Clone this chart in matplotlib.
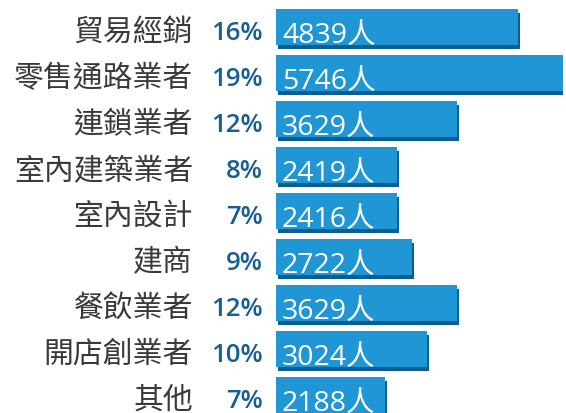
import matplotlib
matplotlib.use('Agg')
import matplotlib.pyplot as plt
import matplotlib.transforms as mtransforms
import numpy as np

# data
categories = ['貿易經銷', '零售通路業者', '連鎖業者', '室內建築業者', '室內設計',
              '建商', '餐飲業者', '開店創業者', '其他']
percents = [16, 19, 12, 8, 7, 9, 12, 10, 7]
counts = [4839, 5746, 3629, 2419, 2416, 2722, 3629, 3024, 2188]

bar_color = '#2196d5'
shadow_color = '#0b5d92'
pct_color = '#175f92'
label_color = '#3a3a3a'

fig = plt.figure(figsize=(5.66, 4.14), dpi=100)
fig.patch.set_facecolor('white')
# axes starts where the bars start, full height
ax = fig.add_axes([276 / 566, 0, 287 / 566, 1])
ax.set_axis_off()

y = np.arange(len(categories))
row_px = 46
ax.set_xlim(0, max(counts))
ax.set_ylim((414 - 28) / row_px, -28 / row_px)

# shadow bars, shifted a bit right and down
shadow = ax.barh(y, counts, height=36 / row_px, color=shadow_color, zorder=1)
shift = mtransforms.ScaledTranslation(0.02, -0.04, fig.dpi_scale_trans)
for p in shadow:
    p.set_transform(ax.transData + shift)

ax.barh(y, counts, height=36 / row_px, color=bar_color, zorder=2)

for i in range(len(categories)):
    ax.annotate(categories[i], xy=(0, i), xytext=(-83, -13), textcoords='offset pixels',
                ha='right', va='baseline', fontsize=21.5, fontweight='light', color=label_color,
                family=['Noto Sans CJK TC'], annotation_clip=False)
    ax.annotate(f'{percents[i]}%', xy=(0, i), xytext=(-13, -12), textcoords='offset pixels',
                ha='right', va='baseline', fontsize=18.5, fontweight='semibold', color=pct_color,
                family=['Open Sans', 'DejaVu Sans'], annotation_clip=False)
    ax.annotate(f'{counts[i]}人', xy=(0, i), xytext=(6, -15), textcoords='offset pixels',
                ha='left', va='baseline', fontsize=20.5, color='white',
                family=['Open Sans', 'Noto Sans CJK TC'], zorder=3, annotation_clip=False)

fig.savefig('out.png', dpi=100, facecolor='white')
